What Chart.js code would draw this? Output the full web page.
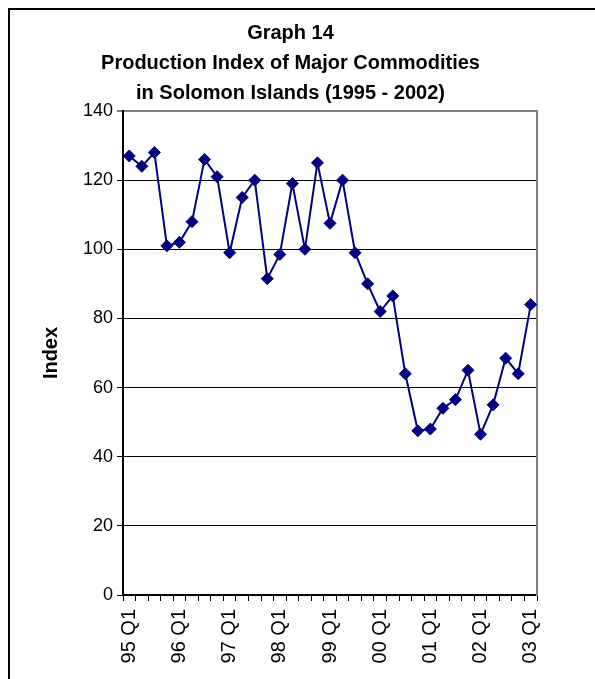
<!DOCTYPE html>
<html>
<head>
<meta charset="utf-8">
<script src="https://cdn.jsdelivr.net/npm/chart.js@4/dist/chart.umd.min.js"></script>
<style>
  html, body { margin: 0; padding: 0; background: #fff; }
  #wrap { position: relative; width: 595px; height: 679px; overflow: hidden; }
  #frame {
    position: absolute; left: 8px; top: 8px; width: 700px; height: 800px;
    border-left: 2px solid #000; border-top: 2px solid #000; pointer-events: none;
  }
  canvas { display: block; }
</style>
</head>
<body>
<div id="wrap">
  <canvas id="chart" width="595" height="679"></canvas>
  <div id="frame"></div>
</div>
<script>
// Quarterly production index, 1995 Q1 to 2003 Q1
const quarters = [
  '95 Q1','95 Q2','95 Q3','95 Q4',
  '96 Q1','96 Q2','96 Q3','96 Q4',
  '97 Q1','97 Q2','97 Q3','97 Q4',
  '98 Q1','98 Q2','98 Q3','98 Q4',
  '99 Q1','99 Q2','99 Q3','99 Q4',
  '00 Q1','00 Q2','00 Q3','00 Q4',
  '01 Q1','01 Q2','01 Q3','01 Q4',
  '02 Q1','02 Q2','02 Q3','02 Q4',
  '03 Q1'
];
const productionIndex = [
  127, 124, 128, 101,
  102, 108, 126, 121,
  99, 115, 120, 91.5,
  98.5, 119, 100, 125,
  107.5, 120, 99, 90,
  82, 86.5, 64, 47.5,
  48, 54, 56.5, 65,
  46.5, 55, 68.5, 64,
  84
];
const titleLines = ['Graph 14', 'Production Index of Major Commodities', 'in Solomon Islands (1995 - 2002)'];
const yAxisTitle = 'Index';

const FONT = "'Liberation Sans', Arial, sans-serif";
Chart.defaults.font.family = FONT;
Chart.defaults.color = '#000';

new Chart(document.getElementById('chart'), {
  type: 'line',
  data: {
    labels: quarters,
    datasets: [{
      data: productionIndex,
      borderColor: '#000080',
      backgroundColor: '#000080',
      borderWidth: 2,
      pointStyle: 'rectRot',
      pointRadius: 6,
      pointHoverRadius: 6,
      pointBorderWidth: 1,
      tension: 0,
      fill: false
    }]
  },
  options: {
    responsive: false,
    animation: false,
    events: [],
    layout: { padding: { left: 0, right: 14, top: 0, bottom: 0 } },
    plugins: {
      legend: { display: false },
      tooltip: { enabled: false },
      title: {
        display: true,
        text: titleLines,
        color: '#000',
        font: { size: 20, weight: 'bold', lineHeight: 1.5 },
        padding: { top: 18, bottom: 3 }
      }
    },
    scales: {
      x: {
        type: 'category',
        offset: true,
        grid: {
          offset: true,
          drawOnChartArea: false,
          drawTicks: true,
          tickLength: 6,
          tickColor: '#000',
          tickWidth: 1
        },
        border: { display: true, color: '#000', width: 2 },
        ticks: {
          autoSkip: false,
          maxRotation: 90,
          minRotation: 90,
          padding: 8,
          color: '#000',
          font: { size: 20 },
          callback: function (value, index) {
            return index % 4 === 0 ? this.getLabelForValue(value) : '';
          }
        },
        afterFit: function (s) { s.height = 84; }
      },
      y: {
        type: 'linear',
        position: 'left',
        min: 0,
        max: 140,
        ticks: { stepSize: 20, padding: 4, color: '#000', font: { size: 18 } },
        grid: {
          color: function (ctx) { return ctx.tick && ctx.tick.value === 140 ? '#808080' : '#000'; },
          lineWidth: function (ctx) { return ctx.tick && ctx.tick.value === 140 ? 2 : 1; },
          drawTicks: true,
          tickLength: 6,
          tickColor: '#000',
          tickWidth: 1
        },
        border: { display: true, color: '#000', width: 2 },
        title: {
          display: true,
          text: yAxisTitle,
          color: '#000',
          font: { size: 20, weight: 'bold', lineHeight: 1.2 },
          padding: { top: 39, bottom: 0 }
        },
        afterFit: function (s) { s.width = 123; }
      },
      frameRight: {
        type: 'linear',
        position: 'right',
        min: 0,
        max: 140,
        ticks: { display: false },
        grid: { display: false, drawOnChartArea: false, drawTicks: false },
        border: { display: true, color: '#808080', width: 2 },
        afterFit: function (s) { s.width = 44; }
      }
    }
  }
});
</script>
</body>
</html>
